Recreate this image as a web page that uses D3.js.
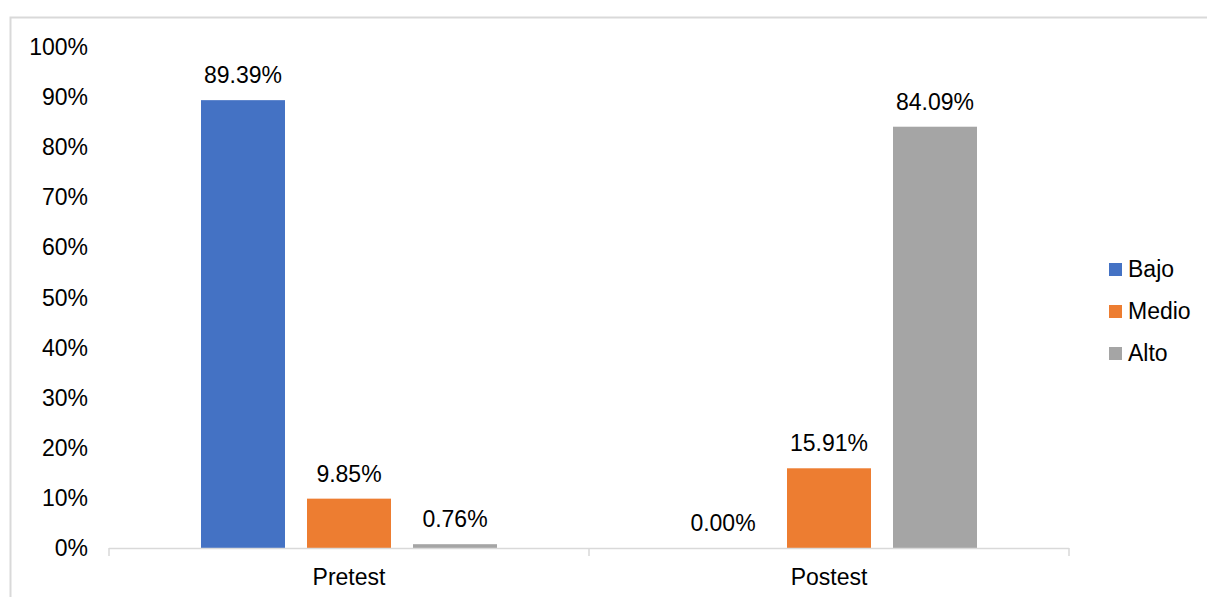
<!DOCTYPE html>
<html>
<head>
<meta charset="utf-8">
<script src="https://cdn.jsdelivr.net/npm/d3@7"></script>
<style>
  body { margin: 0; background: #fff; }
  text { font-family: "Liberation Sans", Arial, sans-serif; fill: #000; }
</style>
</head>
<body>
<svg id="canvas" width="1207" height="597"></svg>
<script>
const categories = ['Pretest', 'Postest'];
const series = ['Bajo', 'Medio', 'Alto'];
const colors = ['#4472C4', '#ED7D31', '#A5A5A5'];
const bajo = [89.39, 0.00];
const medio = [9.85, 15.91];
const alto = [0.76, 84.09];
const yTicks = [0, 10, 20, 30, 40, 50, 60, 70, 80, 90, 100];

const values = [bajo, medio, alto];
const fontSize = '23px';

const canvas = d3.select('#canvas');

// chart frame (runs off the right and bottom edges)
canvas.append('rect')
    .attr('x', 10.5).attr('y', 17.5)
    .attr('width', 1220).attr('height', 600)
    .attr('fill', 'none')
    .attr('stroke', '#d9d9d9')
    .attr('stroke-width', 2);

const x0 = d3.scaleBand()
    .domain(categories)
    .range([109, 1069]);

const x1 = d3.scaleBand()
    .domain(series)
    .range([-159, 159])
    .paddingInner(22 / 106)
    .paddingOuter(11 / 106);

const y = d3.scaleLinear()
    .domain([0, 100])
    .range([548, 47]);

// y labels, no axis line
canvas.selectAll('.ytick')
    .data(yTicks)
    .enter()
    .append('text')
    .attr('class', 'ytick')
    .attr('x', 88)
    .attr('y', d => y(d))
    .attr('dy', '0.35em')
    .attr('text-anchor', 'end')
    .style('font-size', fontSize)
    .text(d => d + '%');

// bars
categories.forEach((cat, ci) => {
    const cx = x0(cat) + x0.bandwidth() / 2;
    series.forEach((s, si) => {
        const v = values[si][ci];
        const bx = cx + x1(s);
        if (v > 0) {
            canvas.append('rect')
                .attr('x', bx)
                .attr('y', y(v))
                .attr('width', x1.bandwidth())
                .attr('height', y(0) - y(v))
                .attr('fill', colors[si]);
        }
        canvas.append('text')
            .attr('x', bx + x1.bandwidth() / 2)
            .attr('y', y(v) - 17)
            .attr('text-anchor', 'middle')
            .style('font-size', fontSize)
            .text(v.toFixed(2) + '%');
    });
});

// x axis
const xAxis = canvas.append('g');
xAxis.append('line')
    .attr('x1', 109).attr('x2', 1069)
    .attr('y1', y(0) + 0.5).attr('y2', y(0) + 0.5)
    .attr('stroke', '#d9d9d9').attr('stroke-width', 1.5);
xAxis.selectAll('.xtickline')
    .data([109, 589, 1069])
    .enter()
    .append('line')
    .attr('x1', d => d).attr('x2', d => d)
    .attr('y1', y(0)).attr('y2', y(0) + 8)
    .attr('stroke', '#d9d9d9').attr('stroke-width', 1.5);
xAxis.selectAll('.xlabel')
    .data(categories)
    .enter()
    .append('text')
    .attr('x', d => x0(d) + x0.bandwidth() / 2)
    .attr('y', 585)
    .attr('text-anchor', 'middle')
    .style('font-size', fontSize)
    .text(d => d);

// legend
const legend = canvas.selectAll('.legend')
    .data(series)
    .enter()
    .append('g')
    .attr('transform', (d, i) => `translate(1109, ${269 + i * 42})`);
legend.append('rect')
    .attr('x', 0).attr('y', -6)
    .attr('width', 13).attr('height', 13)
    .attr('fill', (d, i) => colors[i]);
legend.append('text')
    .attr('x', 19)
    .attr('y', 0)
    .attr('dy', '0.35em')
    .style('font-size', fontSize)
    .text(d => d);
</script>
</body>
</html>
